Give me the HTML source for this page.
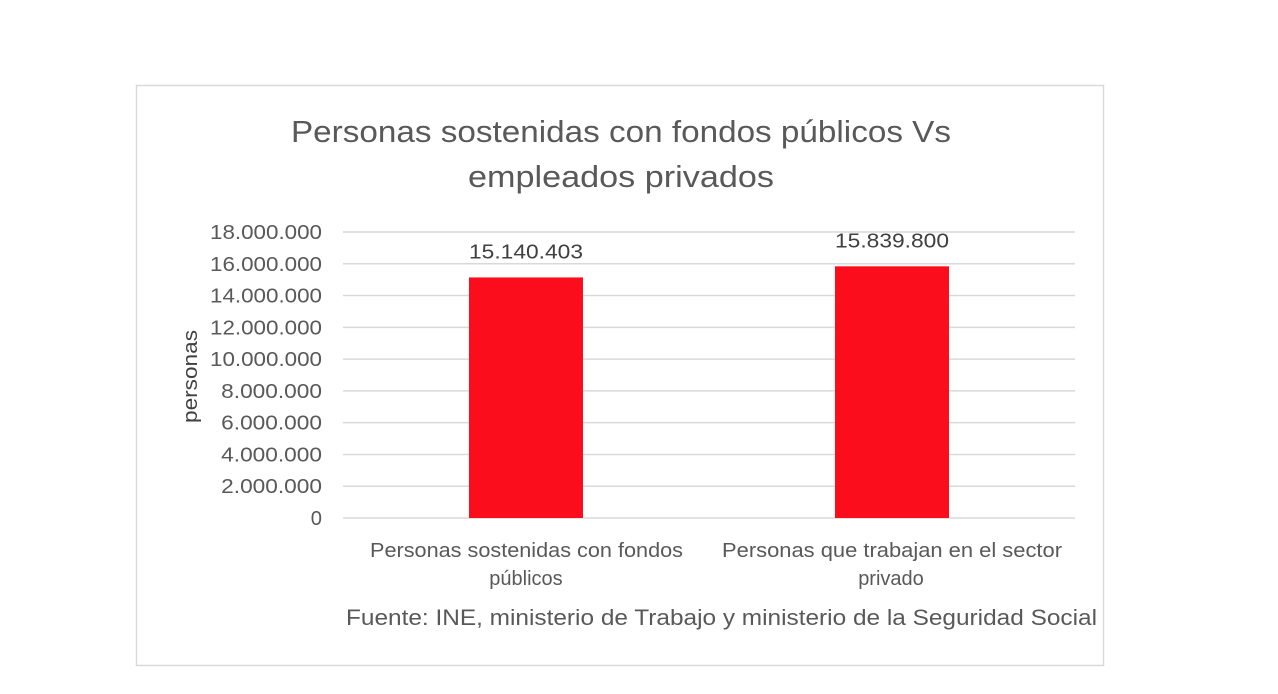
<!DOCTYPE html>
<html><head><meta charset="utf-8"><style>
html,body{margin:0;padding:0;background:#fff;width:1278px;height:694px;overflow:hidden;font-family:"Liberation Sans",sans-serif;}
</style></head><body>
<svg width="1278" height="694" font-family="Liberation Sans, sans-serif">
<rect x="136.5" y="85.5" width="967" height="580" fill="#fff" stroke="#d9d9d9" stroke-width="1.5"/>
<text x="291" y="142" textLength="660" lengthAdjust="spacingAndGlyphs" font-size="31" fill="#595959">Personas sostenidas con fondos públicos Vs</text>
<text x="468" y="187" textLength="306" lengthAdjust="spacingAndGlyphs" font-size="31" fill="#595959">empleados privados</text>
<text transform="translate(197,423) rotate(-90)" textLength="93" lengthAdjust="spacingAndGlyphs" font-size="20" fill="#404040">personas</text>
<g id="grid"></g><g id="bars"></g>
<text x="370" y="557" textLength="313" lengthAdjust="spacingAndGlyphs" font-size="20" fill="#595959">Personas sostenidas con fondos</text>
<text x="526" y="585" text-anchor="middle" font-size="20" fill="#595959">públicos</text>
<text x="722" y="557" textLength="340" lengthAdjust="spacingAndGlyphs" font-size="20" fill="#595959">Personas que trabajan en el sector</text>
<text x="891" y="585" text-anchor="middle" font-size="20" fill="#595959">privado</text>
<text x="346" y="625" textLength="751" lengthAdjust="spacingAndGlyphs" font-size="22" fill="#595959">Fuente: INE, ministerio de Trabajo y ministerio de la Seguridad Social</text>
</svg>
<script>
const categories=["Personas sostenidas con fondos públicos","Personas que trabajan en el sector privado"];
const values=[15140403,15839800];
const valueLabels=["15.140.403","15.839.800"];
const ticks=[0,2000000,4000000,6000000,8000000,10000000,12000000,14000000,16000000,18000000];
const tickLabels=["0","2.000.000","4.000.000","6.000.000","8.000.000","10.000.000","12.000.000","14.000.000","16.000.000","18.000.000"];
const ns="http://www.w3.org/2000/svg";
const x0=343,x1=1075,y0=518,y1=232,maxV=18000000;
const y=v=>y0-(v/maxV)*(y0-y1);
const band=(x1-x0)/categories.length;
const g=document.getElementById('grid'),b=document.getElementById('bars');
ticks.forEach((t,i)=>{
 const l=document.createElementNS(ns,'line');
 l.setAttribute('x1',x0);l.setAttribute('x2',x1);l.setAttribute('y1',y(t));l.setAttribute('y2',y(t));
 l.setAttribute('stroke','#d9d9d9');l.setAttribute('stroke-width','1.5');
 
 
 g.appendChild(l);
 const tx=document.createElementNS(ns,'text');
 tx.setAttribute('x',322);tx.setAttribute('y',y(t)+7);tx.setAttribute('text-anchor','end');
 tx.setAttribute('font-size','20');tx.setAttribute('fill','#595959');tx.textContent=tickLabels[i];
 tx.setAttribute('textLength',tickLabels[i].length*11.2);tx.setAttribute('lengthAdjust','spacingAndGlyphs');
 
 
 g.appendChild(tx);
});
values.forEach((v,i)=>{
 const cx=x0+band*(i+0.5),w=114;
 const r=document.createElementNS(ns,'rect');
 r.setAttribute('x',cx-w/2);r.setAttribute('y',y(v));r.setAttribute('width',w);r.setAttribute('height',y0-y(v));
 r.setAttribute('fill','#fc0d1b');
 
 
 b.appendChild(r);
 const t=document.createElementNS(ns,'text');
 t.setAttribute('x',cx);t.setAttribute('y',y(v)-19);t.setAttribute('text-anchor','middle');
 t.setAttribute('font-size','20');t.setAttribute('fill','#404040');t.textContent=valueLabels[i];
 t.setAttribute('textLength',114);t.setAttribute('lengthAdjust','spacingAndGlyphs');
 
 
 b.appendChild(t);
});
</script>
</body></html>
